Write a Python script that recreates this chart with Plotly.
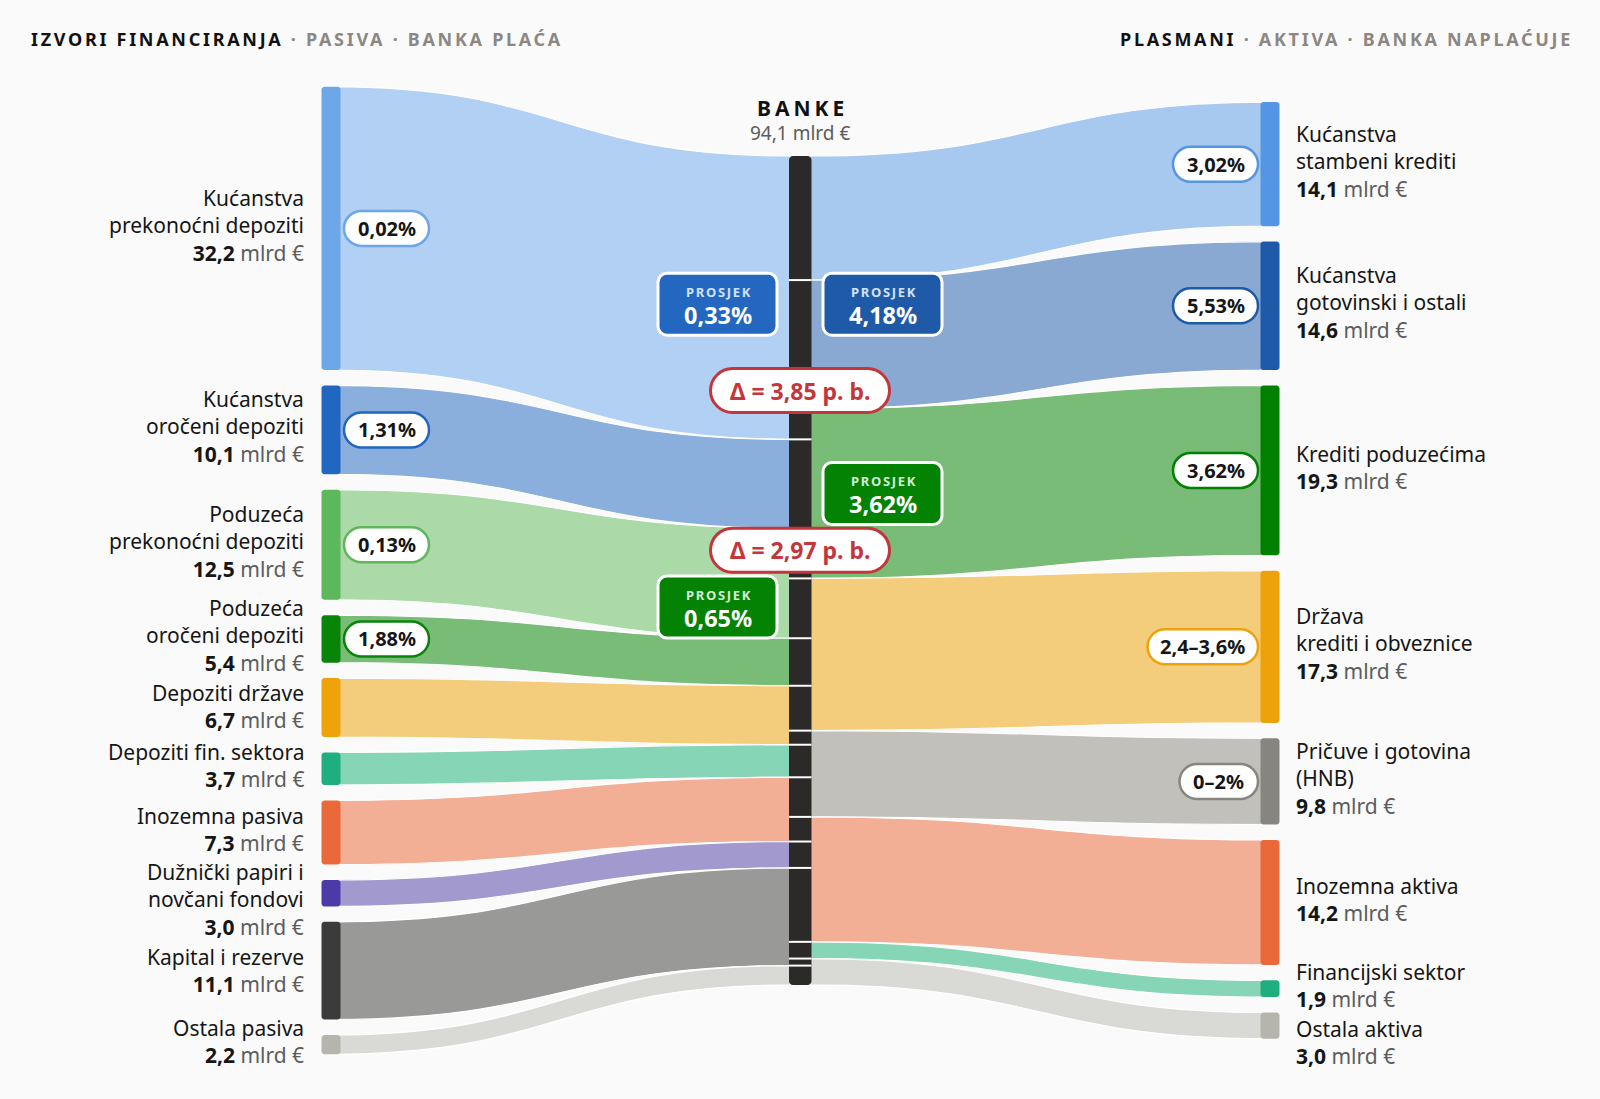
import plotly.graph_objects as go

# ---------------- data ----------------
left_names = ["Kućanstva<br>prekonoćni depoziti", "Kućanstva<br>oročeni depoziti",
              "Poduzeća<br>prekonoćni depoziti", "Poduzeća<br>oročeni depoziti",
              "Depoziti države", "Depoziti fin. sektora", "Inozemna pasiva",
              "Dužnički papiri i<br>novčani fondovi", "Kapital i rezerve", "Ostala pasiva"]
left_values = [32.2, 10.1, 12.5, 5.4, 6.7, 3.7, 7.3, 3.0, 11.1, 2.2]
left_rates = ["0,02%", "1,31%", "0,13%", "1,88%", None, None, None, None, None, None]

right_names = ["Kućanstva<br>stambeni krediti", "Kućanstva<br>gotovinski i ostali",
               "Krediti poduzećima", "Država<br>krediti i obveznice",
               "Pričuve i gotovina<br>(HNB)", "Inozemna aktiva", "Financijski sektor", "Ostala aktiva"]
right_values = [14.1, 14.6, 19.3, 17.3, 9.8, 14.2, 1.9, 3.0]
right_rates = ["3,02%", "5,53%", "3,62%", "2,4–3,6%", "0–2%", None, None, None]

bank_name = "BANKE"
bank_total = 94.1
avg_dep_households = "0,33%"
avg_loan_households = "4,18%"
avg_dep_corporates = "0,65%"
avg_loan_corporates = "3,62%"
delta_households = "3,85"
delta_corporates = "2,97"

header_left = ["IZVORI FINANCIRANJA", "PASIVA", "BANKA PLAĆA"]
header_right = ["PLASMANI", "AKTIVA", "BANKA NAPLAĆUJE"]

# ---------------- styles ----------------
left_node_colors = ["#6ea7e8", "#2166c0", "#5db85c", "#088508", "#eea30b",
                    "#1eae7f", "#e9693a", "#4c3aa6", "#3b3b3b", "#b5b5ae"]
left_link_colors = ["#b2d0f3", "#8bafdc", "#abd9a8", "#79bc77", "#f4cd7c",
                    "#87d5b7", "#f2af95", "#a29acf", "#999997", "#d9d9d5"]
right_node_colors = ["#5496e3", "#1f5aa8", "#018001", "#eda20b", "#86857f",
                     "#e9693a", "#1eae7f", "#b5b5ae"]
right_link_colors = ["#a7c8ef", "#89a9d3", "#79bc77", "#f4cd7c", "#c1c0bb",
                     "#f2af95", "#87d5b7", "#d9d9d5"]
BLUE_L, BLUE_R, GREEN = "#2467c0", "#1f5aa8", "#038203"
RED = "#c4363b"
BG = "#fafafa"
FONT = "Noto Sans, Open Sans, sans-serif"
TXT = "#161616"
GREY = "#5c5c5c"
HEAD_GREY = "#8c8782"

W, H = 1600, 1099
K = 8.8            # pixels per mlrd €
CENTER_TOP_PX = 156
GAP = 1.75         # gap between nodes, in mlrd €

LX0, LX1 = 321.5, 340.5
CX0, CX1 = 789.0, 811.5
RX0, RX1 = 1260.5, 1279.5


def Y(px):
    return (px - CENTER_TOP_PX) / K


def U(px):
    return px / K


def fmt(v):
    return f"{v:.1f}".replace(".", ",")


total = sum(left_values)


def stack(values):
    span = sum(values) + GAP * (len(values) - 1)
    y = (total - span) / 2
    out = []
    for v in values:
        out.append((y, y + v))
        y += v + GAP
    return out


def cum(values):
    out, y = [], 0.0
    for v in values:
        out.append((y, y + v))
        y += v
    return out


def band(xa, ya0, ya1, xb, yb0, yb1):
    xm = (xa + xb) / 2
    return (f"M{xa},{ya0} C{xm},{ya0} {xm},{yb0} {xb},{yb0} L{xb},{yb1} "
            f"C{xm},{yb1} {xm},{ya1} {xa},{ya1} Z")


def rrect(cx, cy, w, h, r):
    k = 0.5523
    x0, x1 = cx - w / 2, cx + w / 2
    y0, y1 = cy - U(h / 2), cy + U(h / 2)
    ry = U(r)
    return (f"M{x0 + r},{y0} L{x1 - r},{y0} "
            f"C{x1 - r + k * r},{y0} {x1},{y0 + ry - k * ry} {x1},{y0 + ry} "
            f"L{x1},{y1 - ry} "
            f"C{x1},{y1 - ry + k * ry} {x1 - r + k * r},{y1} {x1 - r},{y1} "
            f"L{x0 + r},{y1} "
            f"C{x0 + r - k * r},{y1} {x0},{y1 - ry + k * ry} {x0},{y1 - ry} "
            f"L{x0},{y0 + ry} "
            f"C{x0},{y0 + ry - k * ry} {x0 + r - k * r},{y0} {x0 + r},{y0} Z")


CHAR_W = {",": 5.1, "%": 16.2, "–": 9.5, ".": 5.1, " ": 4.9}


def text_w(s, size=19):
    return sum(CHAR_W.get(c, 10.9) for c in s) * size / 19


left_nodes = stack(left_values)
right_nodes = stack(right_values)
left_center = cum(left_values)
right_center = cum(right_values)

shapes = []
annotations = []

# links
for (a0, a1), (b0, b1), col in zip(left_nodes, left_center, left_link_colors):
    shapes.append(dict(type="path", path=band((LX0 + LX1) / 2, a0, a1, CX0 + 2, b0, b1),
                       fillcolor=col, line=dict(color="white", width=1.2), xref="x", yref="y"))
for (a0, a1), (b0, b1), col in zip(right_center, right_nodes, right_link_colors):
    shapes.append(dict(type="path", path=band(CX1 - 2, a0, a1, (RX0 + RX1) / 2, b0, b1),
                       fillcolor=col, line=dict(color="white", width=1.2), xref="x", yref="y"))

# nodes
for (a0, a1), col in zip(left_nodes, left_node_colors):
    shapes.append(dict(type="path", path=rrect((LX0 + LX1) / 2, (a0 + a1) / 2, LX1 - LX0, (a1 - a0) * K, 3),
                       fillcolor=col, line=dict(width=0), xref="x", yref="y"))
for (a0, a1), col in zip(right_nodes, right_node_colors):
    shapes.append(dict(type="path", path=rrect((RX0 + RX1) / 2, (a0 + a1) / 2, RX1 - RX0, (a1 - a0) * K, 3),
                       fillcolor=col, line=dict(width=0), xref="x", yref="y"))

# center bar
shapes.append(dict(type="path", path=rrect((CX0 + CX1) / 2, total / 2, CX1 - CX0, total * K, 4),
                   fillcolor="#2b2a29", line=dict(width=0), xref="x", yref="y"))
for seg in (left_center[:-1], right_center[:-1]):
    for (_, b1) in seg:
        shapes.append(dict(type="line", x0=CX0, x1=CX1, y0=b1, y1=b1, xref="x", yref="y",
                           line=dict(color="white", width=2)))

# rate badges
PILL_H = 35
BADGE_FS = 20
for (a0, a1), rate, col in zip(left_nodes, left_rates, left_node_colors):
    if rate:
        w = text_w(rate) + 31
        cx = LX1 + 3.5 + w / 2
        cy = (a0 + a1) / 2
        shapes.append(dict(type="path", path=rrect(cx, cy, w, PILL_H, PILL_H / 2), fillcolor="white",
                           line=dict(color=col, width=2.5), xref="x", yref="y"))
        annotations.append(dict(x=cx, y=cy, text=f"<b>{rate}</b>", showarrow=False,
                                font=dict(size=BADGE_FS, color=TXT, family=FONT), xanchor="center", yanchor="middle"))
for (a0, a1), rate, col in zip(right_nodes, right_rates, right_node_colors):
    if rate:
        w = text_w(rate) + 31
        cx = RX0 - 2.5 - w / 2
        cy = (a0 + a1) / 2
        shapes.append(dict(type="path", path=rrect(cx, cy, w, PILL_H, PILL_H / 2), fillcolor="white",
                           line=dict(color=col, width=2.5), xref="x", yref="y"))
        annotations.append(dict(x=cx, y=cy, text=f"<b>{rate}</b>", showarrow=False,
                                font=dict(size=BADGE_FS, color=TXT, family=FONT), xanchor="center", yanchor="middle"))


# node labels with simple collision avoidance
def place(nodes, names, lh=U(27.3), gap=U(2)):
    out, prev = [], -1e9
    for (a0, a1), nm in zip(nodes, names):
        n = nm.count("<br>") + 2
        h = n * lh
        top = max((a0 + a1) / 2 - h / 2, prev + gap)
        out.append(top + h / 2)
        prev = top + h
    return out


LABEL_SHIFT = U(-3)
for yc, nm, v in zip(place(left_nodes, left_names), left_names, left_values):
    annotations.append(dict(x=306, y=yc + LABEL_SHIFT, xanchor="right", yanchor="middle", align="right",
                            showarrow=False,
                            text=f"{nm}<br><b>{fmt(v)}</b> <span style='color:{GREY}'>mlrd €</span>",
                            font=dict(size=21, color=TXT, family=FONT)))
for yc, nm, v in zip(place(right_nodes, right_names), right_names, right_values):
    annotations.append(dict(x=1294, y=yc + LABEL_SHIFT, xanchor="left", yanchor="middle", align="left",
                            showarrow=False,
                            text=f"{nm}<br><b>{fmt(v)}</b> <span style='color:{GREY}'>mlrd €</span>",
                            font=dict(size=21, color=TXT, family=FONT)))

# headers
LS = "letter-spacing:2.7px"
annotations.append(dict(x=28.5, y=Y(39), xanchor="left", yanchor="middle", showarrow=False,
                        text=(f"<span style='{LS}'>{header_left[0]}</span>"
                              f"<span style='{LS};color:{HEAD_GREY}'> · {header_left[1]} · {header_left[2]}</span>"),
                        font=dict(size=18, color="#111111", family=FONT, weight=700)))
annotations.append(dict(x=1575, y=Y(39), xanchor="right", yanchor="middle", showarrow=False,
                        text=(f"<span style='{LS}'>{header_right[0]}</span>"
                              f"<span style='{LS};color:{HEAD_GREY}'> · {header_right[1]} · {header_right[2]}</span>"),
                        font=dict(size=18, color="#111111", family=FONT, weight=700)))

# bank title
annotations.append(dict(x=802, y=Y(107.5), xanchor="center", yanchor="middle", showarrow=False,
                        text=f"<span style='letter-spacing:4px'>{bank_name}</span>",
                        font=dict(size=21, color="#111111", family=FONT, weight=700)))
annotations.append(dict(x=800, y=Y(133), xanchor="center", yanchor="middle", showarrow=False,
                        text=f"{fmt(bank_total)} mlrd €", font=dict(size=19, color=GREY, family=FONT)))

# average boxes
hh_left = (left_center[0][0] + left_center[1][1]) / 2
hh_right = (right_center[0][0] + right_center[1][1]) / 2
corp_left = (left_center[2][0] + left_center[3][1]) / 2
corp_right = right_center[2][0] + right_values[2] / 2
blue_y = (hh_left + hh_right) / 2 - U(8)
boxes = [
    (717.5, blue_y, avg_dep_households, BLUE_L, "#d3e2f6"),
    (882.5, blue_y, avg_loan_households, BLUE_R, "#d3e2f6"),
    (882.5, corp_right, avg_loan_corporates, GREEN, "#d4ecd4"),
    (717.5, corp_left, avg_dep_corporates, GREEN, "#d4ecd4"),
]
for cx, cy, val, col, sub in boxes:
    shapes.append(dict(type="path", path=rrect(cx, cy, 119, 62, 9), fillcolor=col,
                       line=dict(color="white", width=3), xref="x", yref="y"))
    annotations.append(dict(x=cx + 1, y=cy - U(12), xanchor="center", yanchor="middle", showarrow=False,
                            text="<span style='letter-spacing:1.7px'>PROSJEK</span>",
                            font=dict(size=13, color=sub, family=FONT, weight=700)))
    annotations.append(dict(x=cx, y=cy + U(10.5), xanchor="center", yanchor="middle", showarrow=False,
                            text=f"<b>{val}</b>", font=dict(size=23.5, color="white", family=FONT)))

# delta badges
deltas = [(Y(390.5), delta_households), ((corp_left + corp_right) / 2, delta_corporates)]
for cy, d in deltas:
    shapes.append(dict(type="path", path=rrect(800, cy, 179, 44, 22), fillcolor="white",
                       line=dict(color=RED, width=3), xref="x", yref="y"))
    annotations.append(dict(x=800, y=cy, xanchor="center", yanchor="middle", showarrow=False,
                            text=f"<b>Δ = {d} p. b.</b>", font=dict(size=23, color=RED, family=FONT)))

# invisible hover trace
hx, hy, ht = [], [], []
for (a0, a1), nm, v in zip(left_nodes, left_names, left_values):
    hx.append((LX0 + LX1) / 2); hy.append((a0 + a1) / 2); ht.append(f"{nm.replace('<br>', ' ')}: {fmt(v)} mlrd €")
for (a0, a1), nm, v in zip(right_nodes, right_names, right_values):
    hx.append((RX0 + RX1) / 2); hy.append((a0 + a1) / 2); ht.append(f"{nm.replace('<br>', ' ')}: {fmt(v)} mlrd €")

fig = go.Figure(go.Scatter(x=hx, y=hy, mode="markers", marker=dict(size=14, opacity=0),
                           hovertext=ht, hoverinfo="text", showlegend=False))
fig.update_layout(
    width=W, height=H, margin=dict(l=0, r=0, t=0, b=0),
    paper_bgcolor=BG, plot_bgcolor=BG,
    xaxis=dict(range=[0, W], visible=False, fixedrange=True),
    yaxis=dict(range=[Y(H), Y(0)], visible=False, fixedrange=True),
    shapes=shapes, annotations=annotations, showlegend=False,
    font=dict(family=FONT),
)
fig.write_html("out.html")
